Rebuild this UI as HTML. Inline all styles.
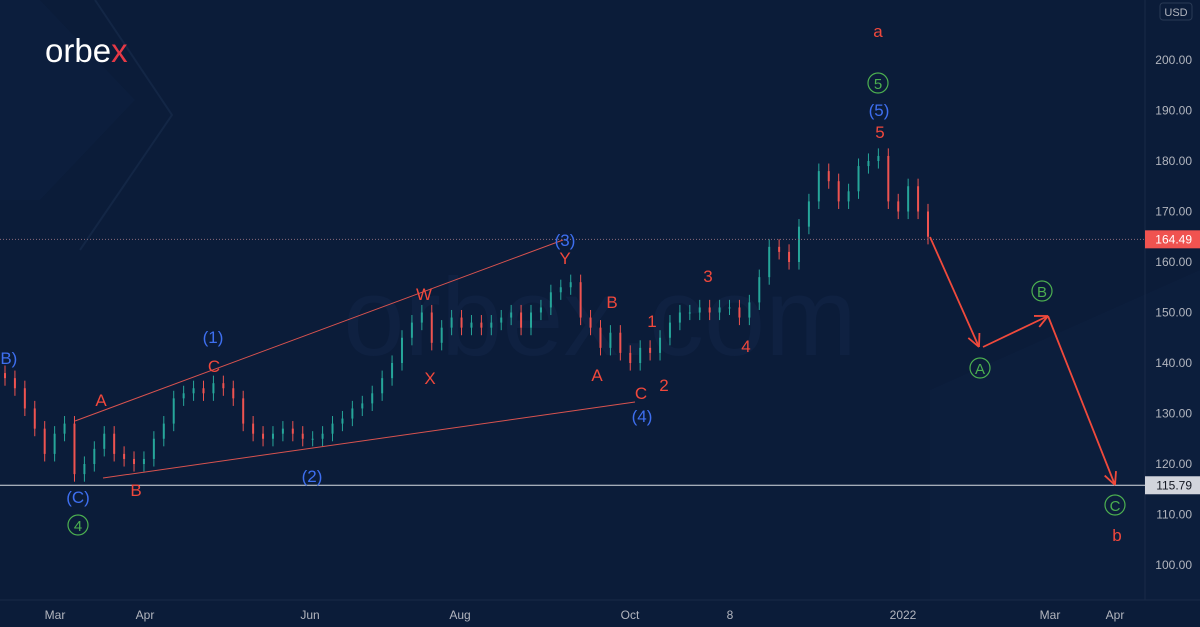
<!DOCTYPE html>
<html><head><meta charset="utf-8">
<style>
html,body{margin:0;padding:0;background:#0b1c39;}
svg{display:block;font-family:"Liberation Sans",sans-serif;}
</style></head>
<body>
<svg id="chart" width="1200" height="627" viewBox="0 0 1200 627">
<rect x="0" y="0" width="1200" height="627" fill="#0b1c39"/>
<polygon points="0,0 40,0 135,100 40,200 0,200" fill="#0d1f3e" opacity="0.7"/>
<polyline points="95,0 172,115 80,250" fill="none" stroke="#132645" stroke-width="2"/>
<polygon points="930,390 1200,270 1200,600 930,600" fill="#0d2040" opacity="0.6"/>
<text x="600" y="355" font-size="110" fill="#0f2141" text-anchor="middle">orbex.com</text>
<text x="45" y="62" font-size="33" fill="#ffffff">orbe<tspan fill="#e53946">x</tspan></text>
<line x1="1145" y1="0" x2="1145" y2="600" stroke="#1a2a47"/>
<line x1="0" y1="600" x2="1200" y2="600" stroke="#1a2a47"/>
<g id="yaxis"></g>
<g id="xaxis"></g>
<g id="candles"></g>
<g id="overlay"></g>
</svg>
<script>
const yTicks=[100,110,120,130,140,150,160,170,180,190,200];
const xLabels=["Mar","Apr","Jun","Aug","Oct","8","2022","Mar","Apr"];
const xLabelPos=[55,145,310,460,630,730,903,1050,1115];
const closes=[137,135,131,127,122,126,128,118,120,123,126,122,121,120,121,125,128,133,134,135,134,136,135,133,128,126,125,126,127,126,125,125,126,128,129,131,132,134,137,140,145,148,150,144,147,149,147,148,147,148,149,150,147,150,151,154,155,156,149,147,143,146,142,140,143,142,145,148,150,150,151,150,151,151,149,152,157,163,162,160,167,172,178,176,172,174,179,180,181,172,170,175,170,165];
const lastPrice=164.49, supportPrice=115.79;
function y(v){return 60+(200-v)*5.05;}
function x(i){return 5+i*(923/(closes.length-1));}
const NS="http://www.w3.org/2000/svg";
function mk(tag,attrs,parent,txt){const e=document.createElementNS(NS,tag);for(const k in attrs)e.setAttribute(k,attrs[k]);if(txt!==undefined)e.textContent=txt;parent.appendChild(e);return e;}
const ya=document.getElementById('yaxis');
yTicks.forEach(v=>{const t=mk('text',{x:1192,y:y(v)+4,'font-size':12,fill:'#b2b5be','text-anchor':'end'},ya,v.toFixed(2));

});
const xa=document.getElementById('xaxis');
xLabels.forEach((l,i)=>{const t=mk('text',{x:xLabelPos[i],y:619,'font-size':12,fill:'#b2b5be','text-anchor':'middle'},xa,l);

});
const cg=document.getElementById('candles');
closes.forEach((c,i)=>{const o=i?closes[i-1]:c+1;const up=c>=o;const col=up?'#26a69a':'#ef5350';
const hi=Math.max(o,c)+1.5, lo=Math.min(o,c)-1.5;
const w=mk('line',{x1:x(i),x2:x(i),y1:y(hi),y2:y(lo),stroke:col,'stroke-width':1},cg);


const top=y(Math.max(o,c)),h=Math.max(1,Math.abs(y(o)-y(c)));
const b=mk('rect',{x:x(i)-1,y:top,width:2,height:h,fill:col},cg);

});
const ov=document.getElementById('overlay');
let e;
e=mk('line',{x1:0,x2:1145,y1:y(lastPrice),y2:y(lastPrice),stroke:'#8a6a7a','stroke-width':1,'stroke-dasharray':'1 2'},ov);

e=mk('line',{x1:0,x2:1145,y1:y(supportPrice),y2:y(supportPrice),stroke:'#d8dbe2','stroke-width':1},ov);

e=mk('rect',{x:1145,y:y(lastPrice)-9,width:55,height:18,fill:'#f05350'},ov);

e=mk('text',{x:1192,y:y(lastPrice)+4,'font-size':12,fill:'#fff','text-anchor':'end'},ov,lastPrice.toFixed(2));

e=mk('rect',{x:1145,y:y(supportPrice)-9,width:55,height:18,fill:'#d1d4dc'},ov);

e=mk('text',{x:1192,y:y(supportPrice)+4,'font-size':12,fill:'#131722','text-anchor':'end'},ov,supportPrice.toFixed(2));

e=mk('rect',{x:1160,y:3,width:32,height:17,rx:3,fill:'#0b1c39',stroke:'#2a3a55'},ov);

e=mk('text',{x:1176,y:16,'font-size':11,fill:'#b2b5be','text-anchor':'middle'},ov,'USD');

e=mk('line',{x1:75,y1:421,x2:563,y2:240,stroke:'#d9534f','stroke-width':1},ov);

e=mk('line',{x1:103,y1:478,x2:635,y2:402,stroke:'#d9534f','stroke-width':1},ov);

function arrow(x1,y1,x2,y2,name){const g=mk('g',{},ov);
mk('line',{x1,y1,x2,y2,stroke:'#f04a3c','stroke-width':1.8},g);
const a=Math.atan2(y2-y1,x2-x1),L=14;[0.45,-0.45].forEach(d=>mk('line',{x1:x2,y1:y2,x2:x2-L*Math.cos(a+d),y2:y2-L*Math.sin(a+d),stroke:'#f04a3c','stroke-width':1.8},g));}
arrow(930,237,979,347,'forecast-arrow-a');
arrow(983,347,1048,316,'forecast-arrow-b');
arrow(1048,316,1115,485,'forecast-arrow-c');
const R='#f0483c',B='#3e6ff0',G='#4caf50';
function lab(t,cx,cy,col,name,circ){if(circ){const c=mk('circle',{cx,cy:cy-6,r:10,fill:'none',stroke:col,'stroke-width':1.2},ov);}
const tx=mk('text',{x:cx,y:cy,'font-size':circ?15:17,fill:col,'text-anchor':'middle'},ov,t);
}
lab('(B)',6,364,B,'wave-label-b-blue');
lab('A',101,406,R,'wave-label-a');
lab('(1)',213,343,B,'wave-label-1-blue');
lab('C',214,372,R,'wave-label-c');
lab('(C)',78,503,B,'wave-label-c-blue');
lab('4',78,531,G,'wave-label-4-green',true);
lab('B',136,496,R,'wave-label-b');
lab('(2)',312,482,B,'wave-label-2-blue');
lab('W',424,300,R,'wave-label-w');
lab('X',430,384,R,'wave-label-x');
lab('(3)',565,246,B,'wave-label-3-blue');
lab('Y',565,264,R,'wave-label-y');
lab('B',612,308,R,'wave-label-b-2');
lab('A',597,381,R,'wave-label-a-2');
lab('1',652,327,R,'wave-label-1');
lab('C',641,399,R,'wave-label-c-2');
lab('(4)',642,422,B,'wave-label-4-blue');
lab('2',664,391,R,'wave-label-2');
lab('3',708,282,R,'wave-label-3');
lab('4',746,352,R,'wave-label-4');
lab('a',878,37,R,'wave-label-a-major');
lab('5',878,89,G,'wave-label-5-green',true);
lab('(5)',879,116,B,'wave-label-5-blue');
lab('5',880,138,R,'wave-label-5');
lab('A',980,374,G,'wave-label-a-green',true);
lab('B',1042,297,G,'wave-label-b-green',true);
lab('C',1115,511,G,'wave-label-c-green',true);
lab('b',1117,541,R,'wave-label-b-major');
</script>
</body></html>
